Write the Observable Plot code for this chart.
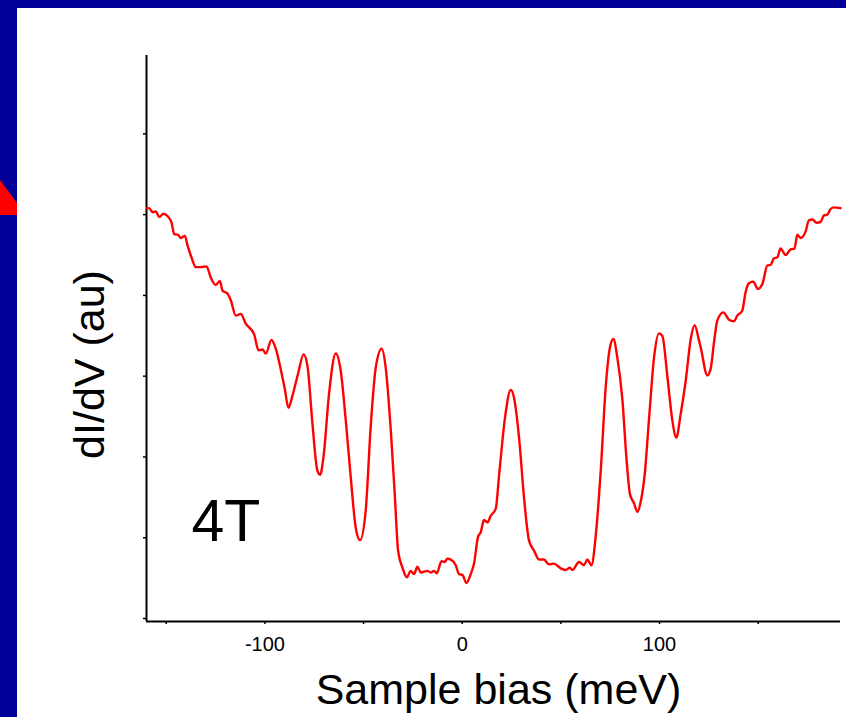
<!DOCTYPE html>
<html><head><meta charset="utf-8">
<script src="https://cdn.jsdelivr.net/npm/d3@7"></script>
<script src="https://cdn.jsdelivr.net/npm/@observablehq/plot@0.6"></script>
<style>
html,body{margin:0;padding:0;background:#fff;}
#stage{position:relative;width:846px;height:717px;background:#000099;overflow:hidden;font-family:"Liberation Sans",Arial,sans-serif;}
#panel{position:absolute;left:17px;top:8px;width:829px;height:709px;background:#fff;}
#tri{position:absolute;left:0;top:180px;width:17px;height:35px;background:#ff0000;clip-path:polygon(0 0,100% 66%,100% 100%,0 100%);}
#chart{position:absolute;left:0;top:0;}
</style></head><body>
<div id="stage"><div id="panel"></div><div id="tri"></div><div id="chart"></div></div>
<script>
// Sample bias (meV)
const bias = [-159.8,-158.7,-156.9,-155.2,-153.6,-151.4,-149.3,-147.3,-146.0,-144.0,-142.6,-140.6,-139.2,-137.2,-135.0,-132.5,-129.6,-127.4,-124.9,-122.8,-121.5,-118.9,-117.3,-114.7,-112.2,-109.7,-105.5,-103.2,-101.2,-99.5,-96.7,-94.5,-92.0,-89.9,-88.1,-85.9,-83.1,-80.4,-78.4,-75.9,-73.4,-72.0,-70.3,-67.5,-64.1,-61.6,-59.0,-56.5,-54.0,-51.8,-48.9,-46.4,-43.8,-40.8,-38.8,-36.2,-34.2,-32.5,-30.3,-28.1,-26.1,-24.4,-22.7,-21.0,-17.6,-16.0,-14.3,-12.9,-10.5,-8.9,-7.5,-5.8,-3.3,-1.6,0.1,2.1,4.3,6.0,8.0,9.4,11.0,12.8,14.4,17.0,18.6,21.7,24.6,26.2,28.8,31.3,33.8,36.4,38.9,41.4,44.0,46.5,49.9,52.4,54.6,55.8,59.2,61.7,63.4,65.5,67.6,70.2,72.7,74.9,76.6,78.6,81.2,83.3,85.0,87.0,88.8,90.4,92.5,94.6,97.2,99.7,101.4,104.0,106.5,108.5,110.7,113.3,115.8,117.8,120.0,121.0,124.2,125.9,127.6,129.3,132.3,135.2,137.7,139.4,141.9,143.6,145.3,147.5,149.8,152.1,154.6,156.3,158.0,159.7,161.3,163.9,166.4,168.4,169.8,171.5,174.0,175.7,177.4,179.6,181.6,183.3,185.0,186.7,188.3,191.7];
// dI/dV (arbitrary units)
const dIdV = [5.08,5.08,5.03,5.04,4.97,5.01,4.98,4.90,4.76,4.75,4.71,4.74,4.62,4.47,4.35,4.35,4.36,4.22,4.13,4.18,4.06,4.02,3.94,3.75,3.77,3.65,3.52,3.32,3.33,3.28,3.45,3.34,3.09,2.84,2.61,2.77,3.04,3.27,3.12,2.41,1.83,1.78,2.00,2.78,3.28,3.07,2.45,1.75,1.13,0.97,1.34,2.37,3.11,3.34,3.11,2.33,1.54,0.84,0.63,0.51,0.59,0.55,0.64,0.57,0.59,0.57,0.59,0.56,0.71,0.70,0.74,0.73,0.66,0.55,0.54,0.44,0.55,0.68,1.01,1.07,1.22,1.19,1.27,1.36,1.75,2.49,2.83,2.74,2.24,1.50,0.97,0.84,0.73,0.73,0.67,0.68,0.62,0.60,0.63,0.60,0.70,0.66,0.73,0.66,1.01,1.83,2.86,3.36,3.46,3.23,2.70,1.96,1.54,1.43,1.32,1.44,1.79,2.45,3.23,3.53,3.50,2.99,2.45,2.24,2.53,2.95,3.46,3.63,3.44,3.34,3.01,3.09,3.42,3.69,3.79,3.70,3.68,3.75,3.81,4.04,4.15,4.17,4.08,4.14,4.37,4.38,4.46,4.47,4.58,4.50,4.57,4.58,4.75,4.71,4.79,4.93,4.94,4.90,4.91,4.99,5.00,5.07,5.09,5.08];

const xDomain = [-160, 191.7];
const yDomain = [-0.037, 6.97];
const xTicks = [-150, -100, -50, 0, 50, 100, 150];
const xTickLabels = [-100, 0, 100];
const yTicks = [0, 1, 2, 3, 4, 5, 6];
const xTitle = "Sample bias (meV)";
const yTitle = "dI/dV (au)";
const fieldLabel = "4T";

const data = bias.map((b, i) => ({bias: b, g: dIdV[i]}));
const font = "'Liberation Sans', Arial, sans-serif";

const chart = Plot.plot({
  width: 846,
  height: 717,
  marginLeft: 146,
  marginRight: 6,
  marginTop: 55,
  marginBottom: 96,
  style: {background: "transparent", fontFamily: font, color: "black", overflow: "visible"},
  x: {domain: xDomain},
  y: {domain: yDomain},
  marks: [
    Plot.axisX({ticks: xTicks, tickSize: 3, label: null, tickFormat: () => "", strokeWidth: 1.5}),
    Plot.axisY({ticks: yTicks, tickSize: 3, label: null, tickFormat: () => "", strokeWidth: 1.5}),
    Plot.text(xTickLabels, {x: d => d, text: d => String(d), frameAnchor: "bottom", lineAnchor: "middle", dy: 23, fontSize: 20, fill: "black"}),
    Plot.ruleX([xDomain[0]], {stroke: "black", strokeWidth: 2}),
    Plot.ruleY([yDomain[0]], {stroke: "black", strokeWidth: 2}),
    Plot.line(data, {x: "bias", y: "g", stroke: "#ff0000", strokeWidth: 2.4, curve: "monotone-x"}),
    Plot.text([xTitle], {frameAnchor: "bottom", textAnchor: "middle", dx: 5, dy: 82, lineAnchor: "bottom", fontSize: 43, fill: "black"}),
    Plot.text([yTitle], {frameAnchor: "left", textAnchor: "middle", rotate: -90, dx: -43, dy: 26, lineAnchor: "bottom", fontSize: 43, fill: "black"}),
    Plot.text([fieldLabel], {frameAnchor: "bottom-left", textAnchor: "start", lineAnchor: "bottom", dx: 45, dy: -81, fontSize: 59, fill: "black"})
  ]
});
document.getElementById("chart").appendChild(chart);
</script>
</body></html>
